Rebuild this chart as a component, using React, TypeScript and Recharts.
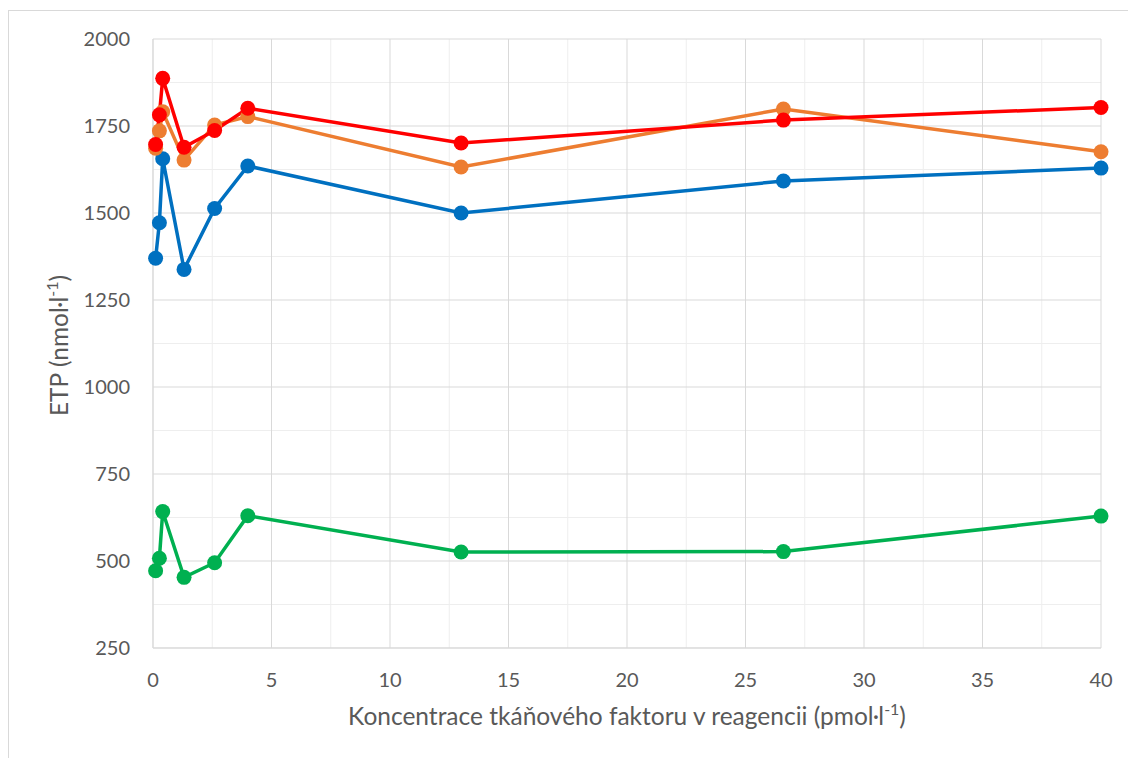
import React from 'react';
import { LineChart, Line, XAxis, YAxis, CartesianGrid } from 'recharts';

const concentrations = [0.11, 0.27, 0.41, 1.31, 2.6, 4, 13, 26.6, 40];
const blueValues = [1370, 1472, 1656, 1338, 1513, 1635, 1500, 1592, 1629];
const orangeValues = [1686, 1736, 1791, 1652, 1753, 1777, 1632, 1799, 1676];
const redValues = [1697, 1782, 1887, 1689, 1737, 1801, 1701, 1767, 1803];
const greenValues = [472, 508, 642, 453, 495, 630, 526, 527, 629];

const xTicks = [0, 5, 10, 15, 20, 25, 30, 35, 40];
const yTicks = [250, 500, 750, 1000, 1250, 1500, 1750, 2000];
const xMinor = [2.5, 7.5, 12.5, 17.5, 22.5, 27.5, 32.5, 37.5];
const yMinor = [375, 625, 875, 1125, 1375, 1625, 1875];

const series = [
  { name: 'green', color: '#00B050', values: greenValues },
  { name: 'blue', color: '#0070C0', values: blueValues },
  { name: 'orange', color: '#ED7D31', values: orangeValues },
  { name: 'red', color: '#FF0000', values: redValues },
];

const toData = (vals: number[]) => concentrations.map((x, i) => ({ x, y: vals[i] }));

const FONT = 'Lato, "Open Sans", sans-serif';
const TEXT = '#595959';
const TITLE_SIZE = 24.5;

const XTitle = (props: any) => {
  const vb = props.viewBox || {};
  const cx = vb.x + vb.width / 2;
  const y = vb.y + 77;
  return (
    <text x={cx} y={y} textAnchor="middle" fill={TEXT} fontSize={TITLE_SIZE} fontFamily={FONT}>
      <tspan>Koncentrace tkáňového faktoru v reagencii (pmol·l</tspan>
      <tspan dy={-10} fontSize={16}>-1</tspan>
      <tspan dy={10} fontSize={TITLE_SIZE}>)</tspan>
    </text>
  );
};

const YTitle = (props: any) => {
  const vb = props.viewBox || {};
  const cx = vb.x - 25;
  const cy = vb.y + vb.height / 2 + 2;
  return (
    <text
      x={cx}
      y={cy}
      textAnchor="middle"
      fill={TEXT}
      fontSize={TITLE_SIZE}
      fontFamily={FONT}
      transform={`rotate(-90, ${cx}, ${cy})`}
    >
      <tspan>ETP (nmol·l</tspan>
      <tspan dy={-10} fontSize={16}>-1</tspan>
      <tspan dy={10} fontSize={TITLE_SIZE}>)</tspan>
    </text>
  );
};

export default function App() {
  return (
    <div style={{ position: 'fixed', left: 0, top: 0, width: 1128, height: 758, overflow: 'hidden', background: '#fff' }}>
      <div
        style={{
          position: 'absolute',
          left: 8,
          top: 10,
          width: 1400,
          height: 1000,
          border: '1px solid #d9d9d9',
          boxSizing: 'border-box',
        }}
      />
      <div style={{ position: 'absolute', left: 0, top: 0 }}>
        <LineChart width={1128} height={758} margin={{ top: 39, right: 27, bottom: 80, left: 93 }}>
          <CartesianGrid stroke="#eeeeee" strokeWidth={1} horizontalValues={yMinor} verticalValues={xMinor} />
          <CartesianGrid stroke="#d9d9d9" strokeWidth={1} horizontalValues={yTicks} verticalValues={xTicks} />
          <XAxis
            dataKey="x"
            type="number"
            domain={[0, 40]}
            ticks={xTicks}
            allowDuplicatedCategory={false}
            height={30}
            stroke="#d9d9d9"
            tickLine={false}
            tickSize={0}
            tickMargin={25}
            tick={{ fill: TEXT, fontSize: 20, fontFamily: FONT }}
            label={{ content: XTitle }}
          />
          <YAxis
            type="number"
            domain={[250, 2000]}
            ticks={yTicks}
            width={60}
            stroke="#d9d9d9"
            tickLine={false}
            tickSize={0}
            tickMargin={23}
            tick={{ fill: TEXT, fontSize: 20, fontFamily: FONT }}
            label={{ content: YTitle }}
          />
          {series.map((s) => (
            <Line
              key={s.name}
              data={toData(s.values)}
              dataKey="y"
              type="linear"
              stroke={s.color}
              strokeWidth={3.5}
              dot={{ r: 7.5, fill: s.color, stroke: s.color, strokeWidth: 0 }}
              activeDot={false}
              isAnimationActive={false}
            />
          ))}
        </LineChart>
      </div>
    </div>
  );
}
